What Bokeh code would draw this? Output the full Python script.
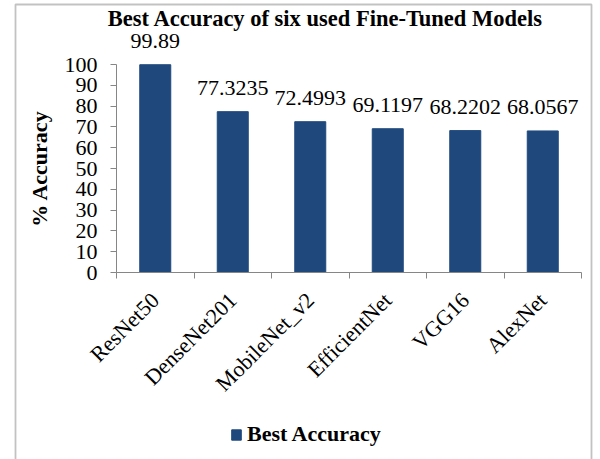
import numpy as np
from bokeh.plotting import figure
from bokeh.models import (ColumnDataSource, LinearAxis, FixedTicker, Range1d,
                          LabelSet, Label, Legend, LegendItem, PolyAnnotation)
from bokeh.embed import file_html
from bokeh.resources import INLINE

# --- data -------------------------------------------------------------
models = ["ResNet50", "DenseNet201", "MobileNet_v2", "EfficientNet", "VGG16", "AlexNet"]
best_accuracy = [99.89, 77.3235, 72.4993, 69.1197, 68.2202, 68.0567]
y_ticks = [0, 10, 20, 30, 40, 50, 60, 70, 80, 90, 100]
series_name = "Best Accuracy"
chart_title = "Best Accuracy of six used Fine-Tuned Models"
y_title = "% Accuracy"

# --- styling ----------------------------------------------------------
FONT = "Liberation Serif"
FSIZE = "22px"
BAR_COLOR = "#1F497D"
AXIS_COLOR = "#868686"

W, H = 600, 459
# plot-area placement on the canvas (pixels from the top-left corner)
PX_LEFT, PX_RIGHT, PX_TOP, PX_BOTTOM = 116, 581, 64, 272

n = len(models)
y_max = y_ticks[-1]
ux = (PX_RIGHT - PX_LEFT) / n          # pixels per category
uy = (PX_BOTTOM - PX_TOP) / y_max      # pixels per percent

x_range = Range1d(-PX_LEFT / ux, n + (W - PX_RIGHT) / ux)
y_range = Range1d(-(H - PX_BOTTOM) / uy, y_max + PX_TOP / uy)


def sx(px):
    return (px - PX_LEFT) / ux


def sy(py):
    return (PX_BOTTOM - py) / uy


centers = np.arange(n) + 0.5
src = ColumnDataSource(dict(
    x=centers,
    top=best_accuracy,
    txt=[str(v) for v in best_accuracy],
))

p = figure(width=W, height=H, x_range=x_range, y_range=y_range,
           x_axis_type=None, y_axis_type=None,
           output_backend="svg", toolbar_location=None,
           min_border=0)
p.outline_line_color = None
p.background_fill_color = "white"
p.border_fill_color = "white"

# category axis: labels at bar centres, tick marks between categories
xaxis = LinearAxis(
    ticker=FixedTicker(ticks=list(centers), minor_ticks=list(range(n + 1))),
    major_label_overrides={float(c): m for c, m in zip(centers, models)},
    fixed_location=0, bounds=(0, n),
)
xaxis.axis_line_color = AXIS_COLOR
xaxis.major_tick_out = 0
xaxis.major_tick_in = 0
xaxis.minor_tick_out = 6
xaxis.minor_tick_in = 0
xaxis.minor_tick_line_color = AXIS_COLOR
xaxis.major_label_orientation = np.pi / 4
xaxis.major_label_text_font = FONT
xaxis.major_label_text_font_size = FSIZE
xaxis.major_label_text_color = "black"
xaxis.major_label_standoff = 18
p.add_layout(xaxis, "below")

yaxis = LinearAxis(ticker=FixedTicker(ticks=y_ticks, minor_ticks=[]),
                   fixed_location=0, bounds=(0, y_max))
yaxis.axis_line_color = AXIS_COLOR
yaxis.major_tick_line_color = AXIS_COLOR
yaxis.major_tick_out = 6
yaxis.major_tick_in = 0
yaxis.minor_tick_out = 0
yaxis.major_label_text_font = FONT
yaxis.major_label_text_font_size = FSIZE
yaxis.major_label_text_color = "black"
yaxis.major_label_standoff = 13
yaxis.axis_label = y_title
yaxis.axis_label_text_font = FONT
yaxis.axis_label_text_font_size = FSIZE
yaxis.axis_label_text_font_style = "bold"
yaxis.axis_label_text_color = "black"
yaxis.axis_label_standoff = 10
p.add_layout(yaxis, "left")

bars = p.vbar(x="x", top="top", bottom=0, width=0.4, source=src,
              fill_color=BAR_COLOR, line_color=BAR_COLOR)

values = LabelSet(x="x", y="top", text="txt", source=src, y_offset=17,
                  text_align="center", text_baseline="alphabetic",
                  text_font=FONT, text_font_size=FSIZE, text_color="black")
p.add_layout(values)

title = Label(x=sx(325), y=sy(18), text=chart_title, text_align="center",
              text_baseline="alphabetic", text_font=FONT,
              text_font_size="22.5px", text_font_style="bold", text_color="black")
p.add_layout(title)

legend = Legend(items=[LegendItem(label=series_name, renderers=[bars])],
                location=(230, 12), orientation="horizontal",
                padding=0, margin=0, spacing=0,
                glyph_width=12, glyph_height=13, label_standoff=5,
                label_text_font=FONT, label_text_font_size=FSIZE,
                label_text_font_style="bold", label_text_color="black",
                border_line_color=None, background_fill_alpha=0)
p.add_layout(legend, "center")

# chart-area frame (open at the bottom edge of the canvas)
frame_box = PolyAnnotation(xs=[sx(15), sx(15), sx(591), sx(591)],
                           ys=[sy(470), sy(4), sy(4), sy(470)],
                           fill_alpha=0, line_color="#353535", line_width=1.8)
p.add_layout(frame_box)

open("out.html", "w").write(file_html(p, INLINE))
